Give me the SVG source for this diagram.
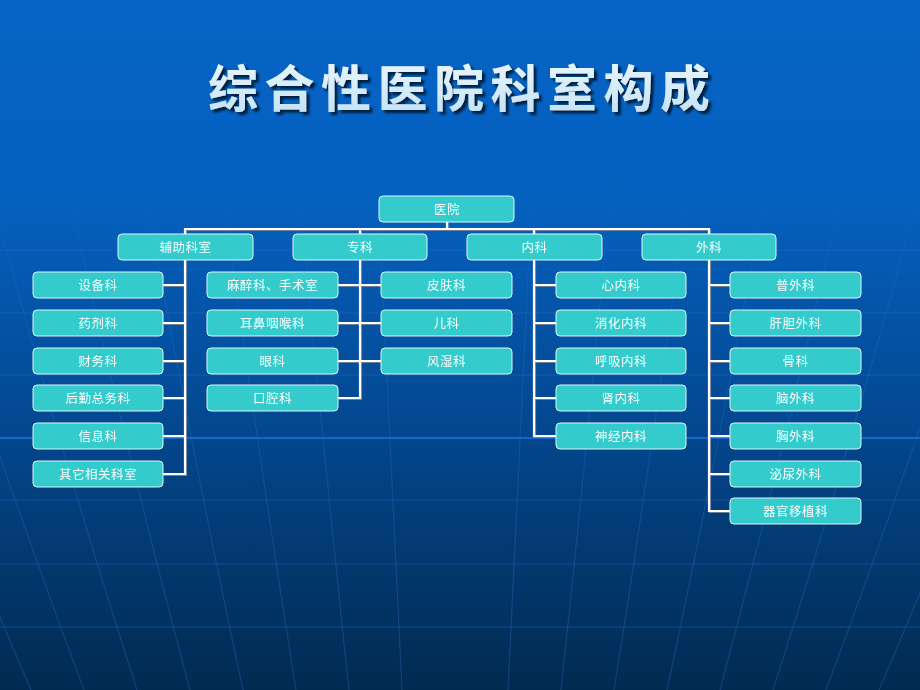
<svg xmlns="http://www.w3.org/2000/svg" width="920" height="690" viewBox="0 0 920 690">
<defs>
<linearGradient id="bg" x1="0" y1="0" x2="0" y2="1">
<stop offset="0" stop-color="#0664c6"/>
<stop offset="0.3" stop-color="#0560be"/>
<stop offset="0.62" stop-color="#03478f"/>
<stop offset="1" stop-color="#012a50"/>
</linearGradient>
<linearGradient id="tg" x1="0" y1="0" x2="0" y2="1">
<stop offset="0" stop-color="#f2faff"/>
<stop offset="1" stop-color="#bfe0f6"/>
</linearGradient>
<linearGradient id="fade" x1="0" y1="0" x2="0" y2="1">
<stop offset="0" stop-color="#2a7ad8" stop-opacity="0"/>
<stop offset="0.3" stop-color="#2a7ad8" stop-opacity="0.25"/>
<stop offset="1" stop-color="#2a6cc0" stop-opacity="0.35"/>
</linearGradient>
<filter id="tshadow" x="-5%" y="-20%" width="110%" height="150%">
<feDropShadow dx="3" dy="3" stdDeviation="0.8" flood-color="#061c3a" flood-opacity="0.95"/>
</filter>
</defs>
<style>
.box{fill:#33cbcb;stroke:#dff6f6;stroke-width:1}
.lbl{font-family:"Noto Sans CJK SC","Noto Sans CJK TC",sans-serif;font-size:12.5px;fill:#ffffff;text-anchor:middle;letter-spacing:0.5px}
.con{fill:none;stroke:#ffffff;stroke-width:2.2;stroke-linejoin:miter}
.sh{fill:none;stroke:#6d7f96;stroke-width:2.2;stroke-linejoin:miter}
.grid{fill:none;stroke:#2a7ad8;stroke-width:1.3;opacity:0.25}
.title{font-family:"Noto Sans CJK SC",sans-serif;font-size:50px;font-weight:700}
</style>
<rect x="0" y="0" width="920" height="690" fill="url(#bg)"/>
<g id="background-grid">
<g class="grid">
<path d="M0,188 H920" opacity="0.5"/>
<path d="M0,250 H920" opacity="0.7"/>
<path d="M0,313 H920"/>
<path d="M0,375 H920"/>
<path d="M0,500 H920"/>
<path d="M0,564 H920"/>
<path d="M0,627 H920"/>
</g>
<path d="M0,438 H920" fill="none" stroke="#1466cc" stroke-width="2"/>
<g fill="none" stroke="url(#fade)" stroke-width="1.2">
<path d="M455,150 Q455,420 455,690"/>
<path d="M534,150 Q522,420 508,690"/>
<path d="M614,150 Q590,420 561,690"/>
<path d="M693,150 Q657,420 614,690"/>
<path d="M772,150 Q725,420 667,690"/>
<path d="M851,150 Q792,420 720,690"/>
<path d="M930,150 Q860,420 773,690"/>
<path d="M1010,150 Q927,420 826,690"/>
<path d="M1089,150 Q995,420 879,690"/>
<path d="M376,150 Q388,420 402,690"/>
<path d="M296,150 Q320,420 349,690"/>
<path d="M217,150 Q253,420 296,690"/>
<path d="M138,150 Q185,420 243,690"/>
<path d="M59,150 Q118,420 190,690"/>
<path d="M-20,150 Q50,420 137,690"/>
<path d="M-100,150 Q-17,420 84,690"/>
<path d="M-179,150 Q-85,420 31,690"/>
</g>
</g>
<g id="title">
<text class="title" x="208" y="107" textLength="502" lengthAdjust="spacing" fill="url(#tg)" filter="url(#tshadow)">综合性医院科室构成</text>
</g>
<g id="connectors">
<g class="sh" transform="translate(1,1)">
<path d="M447,222 V229"/>
<path d="M185,234 V229 H709 V234"/>
<path d="M360,229 V234 M534,229 V234"/>
<path d="M185,260 V474 H163 M163,285 H185 M163,323 H185 M163,361 H185 M163,398 H185 M163,436 H185"/>
<path d="M360,260 V398 H338 M338,285 H381 M338,323 H381 M338,361 H381"/>
<path d="M534,260 V436 H556 M534,285 H556 M534,323 H556 M534,361 H556 M534,398 H556"/>
<path d="M709,260 V511 H730 M709,285 H730 M709,323 H730 M709,361 H730 M709,398 H730 M709,436 H730 M709,474 H730"/>
</g>
<g class="con">
<path d="M447,222 V229"/>
<path d="M185,234 V229 H709 V234"/>
<path d="M360,229 V234 M534,229 V234"/>
<path d="M185,260 V474 H163 M163,285 H185 M163,323 H185 M163,361 H185 M163,398 H185 M163,436 H185"/>
<path d="M360,260 V398 H338 M338,285 H381 M338,323 H381 M338,361 H381"/>
<path d="M534,260 V436 H556 M534,285 H556 M534,323 H556 M534,361 H556 M534,398 H556"/>
<path d="M709,260 V511 H730 M709,285 H730 M709,323 H730 M709,361 H730 M709,398 H730 M709,436 H730 M709,474 H730"/>
</g>
</g>
<g id="n-root"><rect class="box" x="379" y="196" width="135" height="26" rx="4"/><text class="lbl" x="447" y="213.5">医院</text></g>
<g id="n-fuzhu"><rect class="box" x="118" y="234" width="135" height="26" rx="4"/><text class="lbl" x="185.5" y="251.5">辅助科室</text></g>
<g id="n-zhuanke"><rect class="box" x="293" y="234" width="134" height="26" rx="4"/><text class="lbl" x="360" y="251.5">专科</text></g>
<g id="n-neike"><rect class="box" x="467" y="234" width="135" height="26" rx="4"/><text class="lbl" x="534.5" y="251.5">内科</text></g>
<g id="n-waike"><rect class="box" x="642" y="234" width="134" height="26" rx="4"/><text class="lbl" x="709" y="251.5">外科</text></g>

<g id="n-shebei"><rect class="box" x="33" y="272" width="130" height="26" rx="4"/><text class="lbl" x="98" y="289.5">设备科</text></g>
<g id="n-yaoji"><rect class="box" x="33" y="310" width="130" height="26" rx="4"/><text class="lbl" x="98" y="327.5">药剂科</text></g>
<g id="n-caiwu"><rect class="box" x="33" y="348" width="130" height="26" rx="4"/><text class="lbl" x="98" y="365.5">财务科</text></g>
<g id="n-houqin"><rect class="box" x="33" y="385" width="130" height="26" rx="4"/><text class="lbl" x="98" y="402.5">后勤总务科</text></g>
<g id="n-xinxi"><rect class="box" x="33" y="423" width="130" height="26" rx="4"/><text class="lbl" x="98" y="440.5">信息科</text></g>
<g id="n-qita"><rect class="box" x="33" y="461" width="130" height="26" rx="4"/><text class="lbl" x="98" y="478.5">其它相关科室</text></g>

<g id="n-mazui"><rect class="box" x="207" y="272" width="131" height="26" rx="4"/><text class="lbl" x="272.5" y="289.5">麻醉科、手术室</text></g>
<g id="n-erbi"><rect class="box" x="207" y="310" width="131" height="26" rx="4"/><text class="lbl" x="272.5" y="327.5">耳鼻咽喉科</text></g>
<g id="n-yanke"><rect class="box" x="207" y="348" width="131" height="26" rx="4"/><text class="lbl" x="272.5" y="365.5">眼科</text></g>
<g id="n-kouqiang"><rect class="box" x="207" y="385" width="131" height="26" rx="4"/><text class="lbl" x="272.5" y="402.5">口腔科</text></g>

<g id="n-pifu"><rect class="box" x="381" y="272" width="131" height="26" rx="4"/><text class="lbl" x="446.5" y="289.5">皮肤科</text></g>
<g id="n-erke"><rect class="box" x="381" y="310" width="131" height="26" rx="4"/><text class="lbl" x="446.5" y="327.5">儿科</text></g>
<g id="n-fengshi"><rect class="box" x="381" y="348" width="131" height="26" rx="4"/><text class="lbl" x="446.5" y="365.5">风湿科</text></g>

<g id="n-xinnei"><rect class="box" x="556" y="272" width="130" height="26" rx="4"/><text class="lbl" x="621" y="289.5">心内科</text></g>
<g id="n-xiaohua"><rect class="box" x="556" y="310" width="130" height="26" rx="4"/><text class="lbl" x="621" y="327.5">消化内科</text></g>
<g id="n-huxi"><rect class="box" x="556" y="348" width="130" height="26" rx="4"/><text class="lbl" x="621" y="365.5">呼吸内科</text></g>
<g id="n-shennei"><rect class="box" x="556" y="385" width="130" height="26" rx="4"/><text class="lbl" x="621" y="402.5">肾内科</text></g>
<g id="n-shenjing"><rect class="box" x="556" y="423" width="130" height="26" rx="4"/><text class="lbl" x="621" y="440.5">神经内科</text></g>

<g id="n-puwai"><rect class="box" x="730" y="272" width="131" height="26" rx="4"/><text class="lbl" x="795.5" y="289.5">普外科</text></g>
<g id="n-gandan"><rect class="box" x="730" y="310" width="131" height="26" rx="4"/><text class="lbl" x="795.5" y="327.5">肝胆外科</text></g>
<g id="n-guke"><rect class="box" x="730" y="348" width="131" height="26" rx="4"/><text class="lbl" x="795.5" y="365.5">骨科</text></g>
<g id="n-naowai"><rect class="box" x="730" y="385" width="131" height="26" rx="4"/><text class="lbl" x="795.5" y="402.5">脑外科</text></g>
<g id="n-xiongwai"><rect class="box" x="730" y="423" width="131" height="26" rx="4"/><text class="lbl" x="795.5" y="440.5">胸外科</text></g>
<g id="n-miniao"><rect class="box" x="730" y="461" width="131" height="26" rx="4"/><text class="lbl" x="795.5" y="478.5">泌尿外科</text></g>
<g id="n-qiguan"><rect class="box" x="730" y="498" width="131" height="26" rx="4"/><text class="lbl" x="795.5" y="515.5">器官移植科</text></g>
</svg>
